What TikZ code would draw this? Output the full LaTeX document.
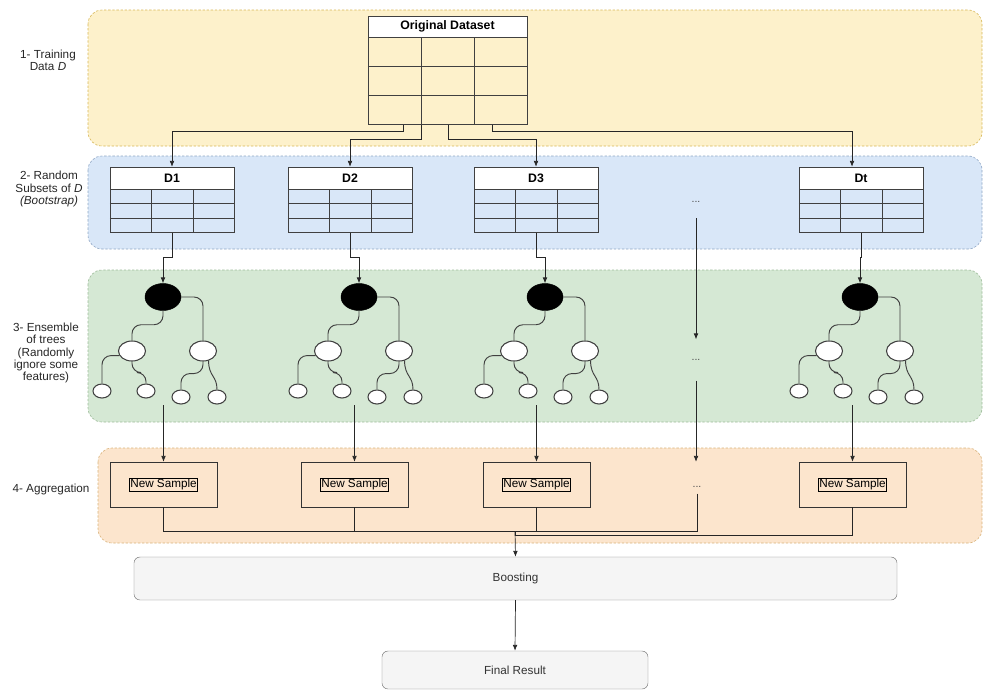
\documentclass[tikz,border=0pt]{standalone}
\usepackage{fontspec}
\setmainfont{Liberation Sans}
\usetikzlibrary{arrows.meta, positioning, calc, shapes.geometric}

\newlength\unitpx
\setlength\unitpx{0.03cm}

\definecolor{yband}{HTML}{FDF1CB}
\definecolor{ybord}{HTML}{D6B656}
\definecolor{bband}{HTML}{D9E7F8}
\definecolor{bbord}{HTML}{8FA6C4}
\definecolor{gband}{HTML}{D5E8D4}
\definecolor{gbord}{HTML}{9DBB99}
\definecolor{oband}{HTML}{FCE5CD}
\definecolor{obord}{HTML}{D8B27A}
\definecolor{boxgray}{HTML}{F5F5F5}
\definecolor{edgegray}{HTML}{777777}

% inner lines of a 3x3 block of cells
\newcommand{\tablegrid}[1]{%
  \foreach \k in {1,2} {
    \draw[black!75] ($(#1.north west)!{\k/3}!(#1.north east)$) -- ($(#1.south west)!{\k/3}!(#1.south east)$);
    \draw[black!75] ($(#1.north west)!{\k/3}!(#1.south west)$) -- ($(#1.north east)!{\k/3}!(#1.south east)$);
  }}

\begin{document}
\begin{tikzpicture}[x=\unitpx, y=-\unitpx,
    >={Latex[length=5pt,width=4pt]},
    band/.style = {rounded corners=14\unitpx, line width=0.5pt, dash pattern=on 2pt off 1.5pt},
    lab/.style = {align=center, text=black!85, font=\fontsize{10}{10.5}\selectfont},
    head/.style = {draw=black!75, fill=white, inner sep=0pt, font=\bfseries\fontsize{10.5}{12}\selectfont},
    cellbox/.style = {draw=black!75, inner sep=0pt},
    treeroot/.style = {ellipse, draw=black, fill=black, minimum width=36\unitpx, minimum height=27\unitpx, inner sep=0pt},
    treenode/.style = {ellipse, draw=black!75, fill=white, line width=0.9pt, minimum width=27\unitpx, minimum height=20\unitpx, inner sep=0pt},
    treeleaf/.style = {treenode, minimum width=18\unitpx, minimum height=14\unitpx},
    branch/.style = {draw=black!75, line width=0.8pt, rounded corners=9\unitpx},
    nsbox/.style = {draw=black!80, minimum width=107\unitpx, minimum height=45\unitpx, font=\fontsize{10}{12}\selectfont},
    result/.style = {draw=edgegray, fill=boxgray, rounded corners=6\unitpx, text=black!80, font=\fontsize{10}{12}\selectfont},
    dotsnode/.style = {inner xsep=0pt, text=black!70, font=\fontsize{9}{10}\selectfont},
    link/.style = {->, draw=black!85, line width=0.6pt},
    joinline/.style = {draw=black!85, line width=0.6pt}
  ]
  \useasboundingbox (0,0) rectangle (984,690);

  % the four stages
  \draw[band, fill=yband, draw=ybord] (88,10) rectangle (982,146);
  \draw[band, fill=bband, draw=bbord] (88,156) rectangle (982,249);
  \draw[band, fill=gband, draw=gbord] (88,270) rectangle (982,422);
  \draw[band, fill=oband, draw=obord] (98,448) rectangle (982,543);

  \node[lab] (lab1) at (48,60) {1- Training\\Data \textit{D}};
  \node[lab] (lab2) at (49,189) {2- Random\\Subsets of \textit{D}\\\textit{(Bootstrap)}};
  \node[lab] (lab3) at (46,353) {3- Ensemble\\of trees\\(Randomly\\ignore some\\features)};
  \node[lab] (lab4) at (51,489) {4- Aggregation};

  % training data
  \node[head, minimum width=159\unitpx, minimum height=21\unitpx] (orig) at (447.5,26.5) {Original Dataset};
  \node[cellbox, minimum width=159\unitpx, minimum height=87\unitpx, below=0pt of orig] (origcells) {};
  \tablegrid{origcells}

  % bootstrap subsets
  \foreach \i/\x/\lab in {1/172/D1, 2/350/D2, 3/536/D3, t/861/Dt} {
    \node[head, minimum width=124\unitpx, minimum height=22\unitpx] (d\i) at (\x,178) {\lab};
    \node[cellbox, minimum width=124\unitpx, minimum height=43\unitpx, below=0pt of d\i] (cells\i) {};
    \tablegrid{cells\i}
  }
  \node[dotsnode, inner ysep=13pt] (dotsb) at (696,202) {...};

  \draw[link] ($(origcells.south)+(-44.5,0)$) -- ++(0,7) -| (d1.north);
  \draw[link] ($(origcells.south)+(-26.5,0)$) -- ++(0,15) -| (d2.north);
  \draw[link] ($(origcells.south)+(0.5,0)$) -- ++(0,15) -| (d3.north);
  \draw[link] ($(origcells.south)+(44.5,0)$) -- ++(0,7) -| ($(dt.north)+(-9,0)$);

  % one tree per subset
  \foreach \i/\x in {1/163, 2/359, 3/545, t/860} {
    \node[treeroot] (root\i) at (\x,297) {};
    \node[treenode] (lc\i) at (\x-31,351) {};
    \node[treenode] (rc\i) at (\x+40,351) {};
    \node[treeleaf] (ll\i) at (\x-61,391) {};
    \node[treeleaf] (lr\i) at (\x-17,391) {};
    \node[treeleaf] (rl\i) at (\x+18,397) {};
    \node[treeleaf] (rr\i) at (\x+54,397) {};
    \draw[branch] (root\i.south) -- ++(0,14) -| (lc\i.north);
    \draw[branch] (root\i.east) -| (rc\i.north);
    \draw[branch] (lc\i.200) -| (ll\i.north);
    \draw[branch] (lc\i.south) -- ++(0,11) -| (lr\i.north);
    \draw[branch] (rc\i.south) -- ++(0,12) -| (rl\i.north);
    \draw[branch] (rc\i.300) .. controls +(0,16) and +(0,-14) .. (rr\i.north);
    \draw[link] (cells\i.south) -- ++(0,25) -| (root\i.north);
  }
  \node[dotsnode, inner ysep=17pt] (dotsc) at (696,360) {...};

  % aggregation
  \foreach \i/\x in {1/163.5, 2/354.5, 3/536.5, t/852.5}
    \node[nsbox] (ns\i) at (\x,484.5) {\setlength\fboxsep{0.6pt}\fbox{New Sample}};
  \node[dotsnode, inner ysep=5pt] (dotsd) at (697,487) {...};

  \coordinate (treebase) at (0,405);
  \foreach \i in {1,2,3,t}
    \draw[link] (ns\i.north |- treebase) -- (ns\i.north);
  \draw[link] (dotsb.south) -- (dotsc.north);
  \draw[link] (dotsc.south) -- (dotsc.south |- ns3.north);

  \node[result, minimum width=763\unitpx, minimum height=43\unitpx] (boost) at (515.5,578.5) {Boosting};
  \node[result, minimum width=266\unitpx, minimum height=38\unitpx] (final) at (515,670) {Final Result};

  \coordinate (join) at (515,531);
  \coordinate (join2) at (515,535);
  \draw[joinline] (ns1.south) |- (join);
  \draw[joinline] (ns2.south) |- (join);
  \draw[joinline] (ns3.south) |- (join);
  \draw[joinline] (dotsd.south) |- (join);
  \draw[joinline] (nst.south) |- (join2) -- (join);
  \draw[link] (join) -- (boost.north);
  \draw[link] (boost.south) -- (final.north);
\end{tikzpicture}
\end{document}
